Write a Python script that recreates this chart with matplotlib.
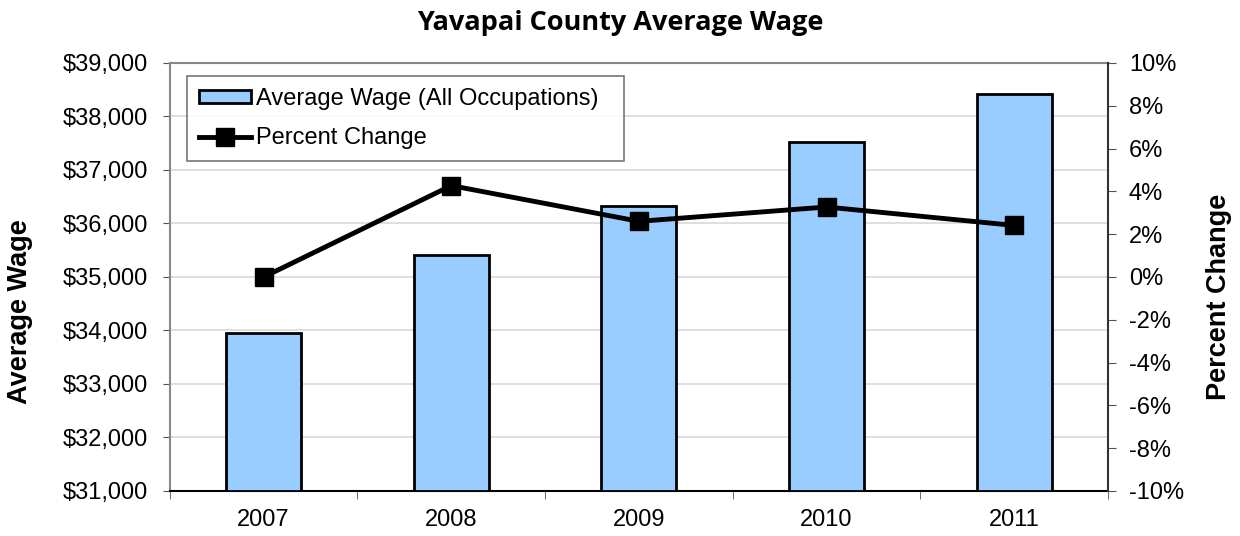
import numpy as np
import matplotlib.pyplot as plt
from matplotlib.ticker import FuncFormatter

years = ["2007", "2008", "2009", "2010", "2011"]
avg_wage = [33960, 35410, 36330, 37520, 38420]
pct_change = [0.0, 4.27, 2.6, 3.27, 2.41]

plt.rcParams['font.family'] = ['Liberation Sans', 'DejaVu Sans']

fig = plt.figure(figsize=(12.4, 5.36), dpi=100)
ax = fig.add_axes([0.137, 0.084, 0.7565, 0.7985])
x = np.arange(len(years))

bars = ax.bar(x, np.array(avg_wage) - 31000, bottom=31000, width=0.4,
              color="#99ccff", edgecolor="black", linewidth=2, zorder=3,
              label="Average Wage (All Occupations)")
ax.set_ylim(31000, 39000)
ax.set_xlim(-0.5, len(years) - 0.5)
ax.set_yticks(np.arange(31000, 39001, 1000))
ax.yaxis.set_major_formatter(FuncFormatter(lambda v, p: f"${v:,.0f}"))
ax.set_xticks(x)
ax.set_xticklabels(years)
ax.set_xticks(np.arange(-0.5, len(years)), minor=True)
ax.tick_params(axis="x", which="major", length=0, pad=13, labelsize=17)
ax.tick_params(axis="x", which="minor", length=6, color="#555555")
ax.tick_params(axis="y", length=5, pad=11, labelsize=17, color="#555555")
ax.grid(axis="y", color="#d9d9d9", linewidth=1.2, zorder=0)
ax.set_axisbelow(True)
for s in ["top", "left"]:
    ax.spines[s].set_color("#888888")
    ax.spines[s].set_linewidth(1.5)
ax.spines["bottom"].set_color("black")
ax.spines["bottom"].set_linewidth(1.5)
ax.spines["right"].set_visible(False)
ax.set_ylabel("Average Wage", fontsize=19.5, fontweight="bold")
ax.yaxis.set_label_coords(-0.146, 0.42)

ax2 = ax.twinx()
line, = ax2.plot(x, pct_change, color="black", linewidth=3.5, marker="s",
                 markersize=13, zorder=4, label="Percent Change")
ax2.set_ylim(-10, 10)
ax2.set_yticks(np.arange(-10, 11, 2))
ax2.yaxis.set_major_formatter(FuncFormatter(lambda v, p: f"{v:.0f}%"))
ax2.tick_params(axis="y", length=6, pad=9, labelsize=17, color="#555555")
for s in ["top", "left", "bottom"]:
    ax2.spines[s].set_visible(False)
ax2.spines["right"].set_color("#333333")
ax2.spines["right"].set_linewidth(1.5)
ax2.set_ylabel("Percent Change", fontsize=19.5, fontweight="bold")
ax2.yaxis.set_label_coords(1.1045, 0.453)

leg = ax.legend([bars, line], ["Average Wage (All Occupations)  ", "Percent Change"],
                loc="upper left", bbox_to_anchor=(0.018, 0.97), fontsize=17,
                frameon=True, fancybox=False, edgecolor="#555555",
                handlelength=2.2, handleheight=0.5, handletextpad=0.25,
                borderpad=0.5, labelspacing=0.75, borderaxespad=0)
leg.get_frame().set_linewidth(1.2)
leg.set_zorder(10)

fig.text(0.5, 0.957, "Yavapai County Average Wage", ha="center", va="center",
         fontsize=19.5, fontweight="bold", family=["Open Sans", "DejaVu Sans"])

fig.savefig("out.png", dpi=100)
